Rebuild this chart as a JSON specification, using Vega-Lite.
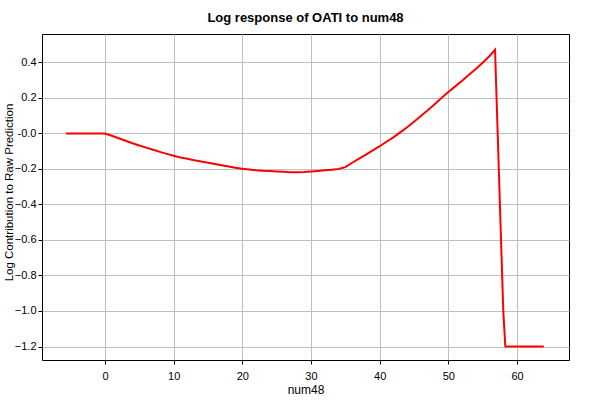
{
  "$schema": "https://vega.github.io/schema/vega-lite/v6.json",
  "width": 527,
  "height": 326,
  "autosize": "none",
  "padding": {"left": 42, "top": 34, "right": 31, "bottom": 40},
  "background": "white",
  "config": {
    "view": {"stroke": "black", "strokeWidth": 1},
    "font": "Liberation Sans"
  },
  "title": {
    "text": "Log response of OATI to num48",
    "fontSize": 13,
    "fontWeight": "bold",
    "font": "Liberation Sans",
    "color": "black",
    "anchor": "middle",
    "offset": 9
  },
  "data": {
    "values": [
      {"x": -5.7, "y": 0.0},
      {"x": -3, "y": 0.0},
      {"x": 0, "y": 0.0},
      {"x": 1, "y": -0.013},
      {"x": 2, "y": -0.027},
      {"x": 3, "y": -0.041},
      {"x": 4, "y": -0.055},
      {"x": 5, "y": -0.068},
      {"x": 6, "y": -0.08},
      {"x": 7, "y": -0.092},
      {"x": 8, "y": -0.104},
      {"x": 9, "y": -0.115},
      {"x": 10, "y": -0.126},
      {"x": 11, "y": -0.135},
      {"x": 12, "y": -0.143},
      {"x": 13, "y": -0.151},
      {"x": 14, "y": -0.158},
      {"x": 15, "y": -0.165},
      {"x": 16, "y": -0.172},
      {"x": 17, "y": -0.179},
      {"x": 18, "y": -0.186},
      {"x": 19, "y": -0.193},
      {"x": 20, "y": -0.199},
      {"x": 21, "y": -0.203},
      {"x": 22, "y": -0.207},
      {"x": 23, "y": -0.21},
      {"x": 24, "y": -0.212},
      {"x": 25, "y": -0.214},
      {"x": 26, "y": -0.216},
      {"x": 27, "y": -0.218},
      {"x": 28, "y": -0.218},
      {"x": 29, "y": -0.217},
      {"x": 30, "y": -0.214},
      {"x": 31, "y": -0.211},
      {"x": 32, "y": -0.208},
      {"x": 33, "y": -0.205},
      {"x": 34, "y": -0.2},
      {"x": 35, "y": -0.19},
      {"x": 36, "y": -0.165},
      {"x": 37, "y": -0.142},
      {"x": 38, "y": -0.119},
      {"x": 39, "y": -0.095},
      {"x": 40, "y": -0.072},
      {"x": 41, "y": -0.047},
      {"x": 42, "y": -0.022},
      {"x": 43, "y": 0.006},
      {"x": 44, "y": 0.035},
      {"x": 45, "y": 0.066},
      {"x": 46, "y": 0.098},
      {"x": 47, "y": 0.131},
      {"x": 48, "y": 0.164},
      {"x": 49, "y": 0.199},
      {"x": 50, "y": 0.233},
      {"x": 51, "y": 0.265},
      {"x": 52, "y": 0.297},
      {"x": 53, "y": 0.33},
      {"x": 54, "y": 0.363},
      {"x": 55, "y": 0.398},
      {"x": 56, "y": 0.436},
      {"x": 56.8, "y": 0.471},
      {"x": 58.0, "y": -1.0},
      {"x": 58.3, "y": -1.2},
      {"x": 61, "y": -1.2},
      {"x": 63.9, "y": -1.2}
    ]
  },
  "mark": {"type": "line", "color": "#ff0000", "strokeWidth": 2, "clip": true},
  "encoding": {
    "x": {
      "field": "x",
      "type": "quantitative",
      "scale": {"domain": [-9.17, 67.57], "nice": false, "zero": false},
      "axis": {
        "title": "num48",
        "values": [0, 10, 20, 30, 40, 50, 60],
        "format": "d",
        "grid": true,
        "gridColor": "#c0c0c0",
        "gridOpacity": 1,
        "domain": false,
        "tickColor": "black",
        "tickSize": 4,
        "labelFontSize": 11,
        "labelColor": "black",
        "labelPadding": 6,
        "titleFontSize": 12,
        "titleFontWeight": "normal",
        "titleColor": "black",
        "titlePadding": 3,
        "labelFont": "Liberation Sans",
        "titleFont": "Liberation Sans"
      }
    },
    "y": {
      "field": "y",
      "type": "quantitative",
      "scale": {"domain": [-1.276, 0.56], "nice": false, "zero": false},
      "axis": {
        "title": "Log Contribution to Raw Prediction",
        "values": [-1.2, -1.0, -0.8, -0.6, -0.4, -0.2, 0, 0.2, 0.4],
        "labelExpr": "abs(datum.value) < 1e-9 ? '-0.0' : format(datum.value, '.1f')",
        "grid": true,
        "gridColor": "#c0c0c0",
        "gridOpacity": 1,
        "domain": false,
        "tickColor": "black",
        "tickSize": 4,
        "labelFontSize": 11,
        "labelColor": "black",
        "labelPadding": 2,
        "titleFontSize": 11.5,
        "titleFontWeight": "normal",
        "titleColor": "black",
        "titleX": -28,
        "titleY": 158,
        "labelFont": "Liberation Sans",
        "titleFont": "Liberation Sans"
      }
    }
  }
}
